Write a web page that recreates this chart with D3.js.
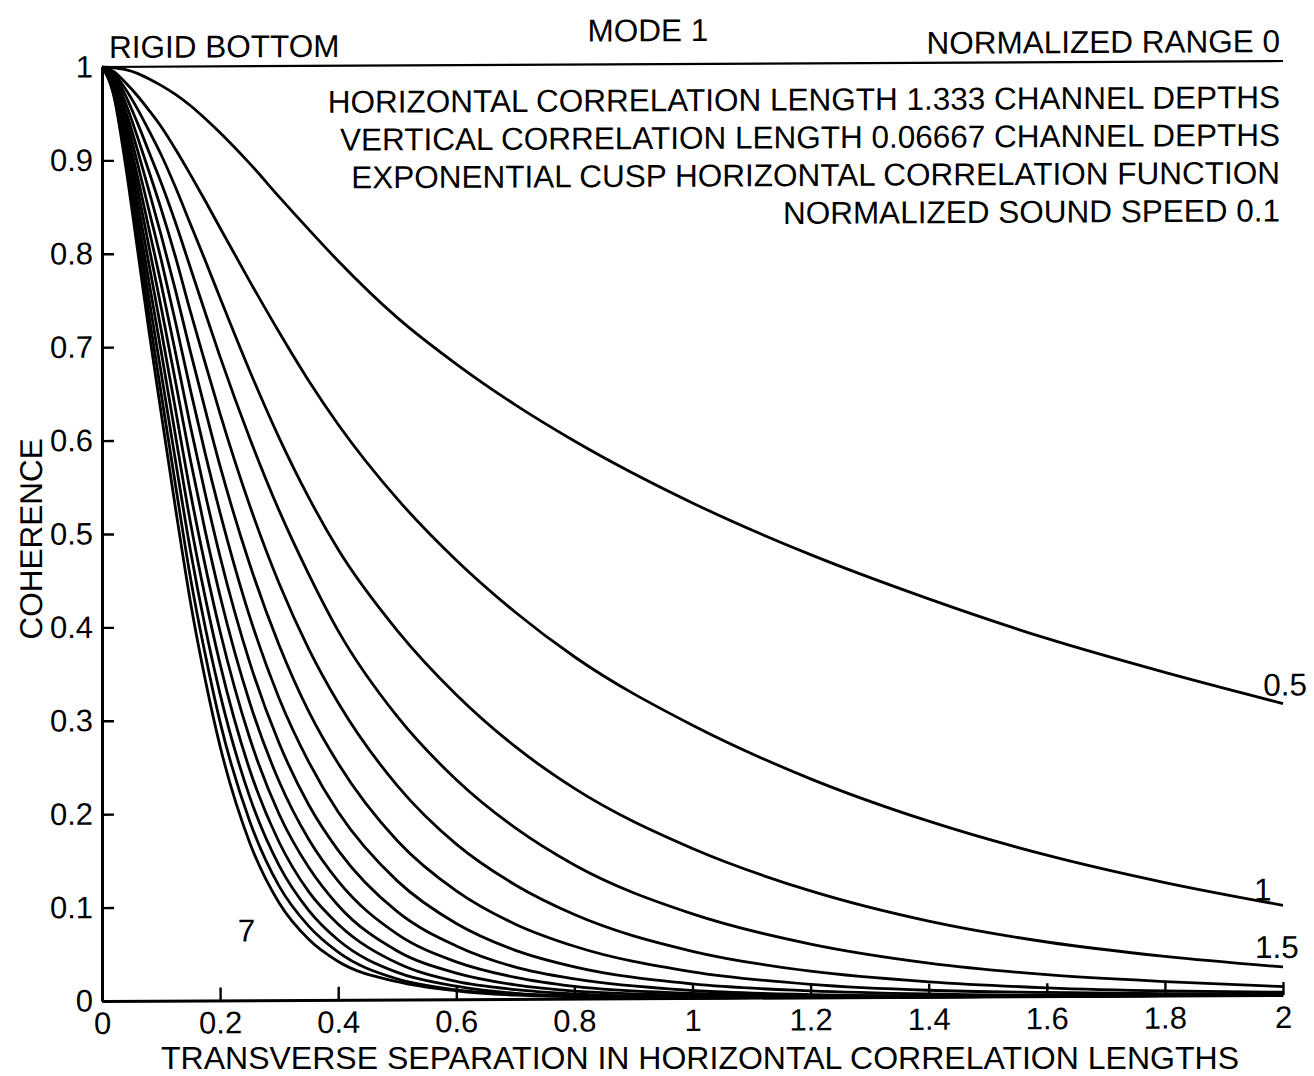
<!DOCTYPE html>
<html>
<head>
<meta charset="utf-8">
<script src="https://cdn.jsdelivr.net/npm/d3@7/dist/d3.min.js"></script>
<style>
  html, body { margin: 0; padding: 0; background: #fff; }
  svg { display: block; }
  text { font-family: "Liberation Sans", Arial, Helvetica, sans-serif; fill: #000; }
</style>
</head>
<body>
<svg id="chart" width="1314" height="1076"></svg>
<script>
// Transverse separation (in horizontal correlation lengths) at which coherence is sampled
const separation = [0, 0.02, 0.04, 0.06, 0.08, 0.1, 0.125, 0.15, 0.175, 0.2, 0.25, 0.3, 0.35, 0.4,
                    0.5, 0.6, 0.7, 0.8, 1.0, 1.2, 1.4, 1.6, 1.8, 2.0];

// Coherence curves, one per normalized range
const coh_0_5 = [1, 0.999, 0.997, 0.993, 0.987, 0.980, 0.970, 0.958, 0.944, 0.929, 0.896, 0.860, 0.825, 0.791, 0.730, 0.680, 0.636, 0.597, 0.530, 0.474, 0.426, 0.383, 0.346, 0.312];
const coh_1_0 = [1, 0.995, 0.983, 0.969, 0.953, 0.936, 0.911, 0.884, 0.856, 0.827, 0.770, 0.715, 0.663, 0.616, 0.536, 0.470, 0.414, 0.366, 0.292, 0.234, 0.188, 0.151, 0.121, 0.096];
const coh_1_5 = [1, 0.993, 0.976, 0.955, 0.931, 0.906, 0.870, 0.831, 0.792, 0.752, 0.674, 0.602, 0.538, 0.482, 0.395, 0.326, 0.270, 0.225, 0.160, 0.114, 0.081, 0.058, 0.042, 0.030];
const coh_2_0 = [1, 0.991, 0.969, 0.940, 0.908, 0.876, 0.832, 0.784, 0.736, 0.689, 0.602, 0.524, 0.456, 0.395, 0.303, 0.235, 0.183, 0.143, 0.090, 0.057, 0.036, 0.023, 0.015, 0.009];
const coh_2_5 = [1, 0.989, 0.961, 0.925, 0.887, 0.848, 0.795, 0.737, 0.682, 0.628, 0.530, 0.446, 0.376, 0.318, 0.229, 0.166, 0.122, 0.090, 0.050, 0.028, 0.016, 0.009, 0.005, 0.003];
const coh_3_0 = [1, 0.987, 0.953, 0.911, 0.866, 0.820, 0.759, 0.694, 0.632, 0.572, 0.467, 0.380, 0.309, 0.253, 0.170, 0.116, 0.080, 0.056, 0.028, 0.014, 0.007, 0.004, 0.002, 0.001];
const coh_3_5 = [1, 0.984, 0.946, 0.897, 0.845, 0.794, 0.725, 0.653, 0.585, 0.522, 0.411, 0.323, 0.255, 0.201, 0.127, 0.081, 0.052, 0.034, 0.015, 0.007, 0.003, 0.001, 0.001, 0.000];
const coh_4_0 = [1, 0.982, 0.938, 0.883, 0.825, 0.768, 0.692, 0.614, 0.542, 0.475, 0.362, 0.275, 0.209, 0.160, 0.094, 0.057, 0.034, 0.021, 0.008, 0.003, 0.001, 0.001, 0.000, 0.000];
const coh_4_5 = [1, 0.980, 0.931, 0.870, 0.806, 0.743, 0.661, 0.578, 0.502, 0.433, 0.319, 0.234, 0.172, 0.127, 0.070, 0.040, 0.023, 0.013, 0.005, 0.002, 0.001, 0.000, 0.000, 0.000];
const coh_5_0 = [1, 0.978, 0.923, 0.856, 0.787, 0.719, 0.631, 0.543, 0.465, 0.395, 0.281, 0.199, 0.142, 0.101, 0.052, 0.028, 0.015, 0.008, 0.003, 0.001, 0.000, 0.000, 0.000, 0.000];
const coh_5_5 = [1, 0.976, 0.916, 0.843, 0.768, 0.696, 0.603, 0.511, 0.431, 0.360, 0.247, 0.169, 0.116, 0.081, 0.039, 0.019, 0.010, 0.005, 0.001, 0.000, 0.000, 0.000, 0.000, 0.000];
const coh_6_0 = [1, 0.973, 0.908, 0.830, 0.750, 0.673, 0.576, 0.481, 0.399, 0.328, 0.218, 0.144, 0.096, 0.064, 0.029, 0.014, 0.006, 0.003, 0.001, 0.000, 0.000, 0.000, 0.000, 0.000];
const coh_6_5 = [1, 0.971, 0.901, 0.817, 0.732, 0.651, 0.550, 0.452, 0.370, 0.298, 0.192, 0.122, 0.079, 0.051, 0.022, 0.010, 0.005, 0.002, 0.000, 0.000, 0.000, 0.000, 0.000, 0.000];
const coh_7_0 = [1, 0.969, 0.894, 0.805, 0.715, 0.630, 0.525, 0.426, 0.343, 0.272, 0.169, 0.104, 0.065, 0.041, 0.019, 0.009, 0.004, 0.002, 0.000, 0.000, 0.000, 0.000, 0.000, 0.000];

const ranges = [0.5, 1.0, 1.5, 2.0, 2.5, 3.0, 3.5, 4.0, 4.5, 5.0, 5.5, 6.0, 6.5, 7.0];
const coherenceSeries = [coh_0_5, coh_1_0, coh_1_5, coh_2_0, coh_2_5, coh_3_0, coh_3_5,
                         coh_4_0, coh_4_5, coh_5_0, coh_5_5, coh_6_0, coh_6_5, coh_7_0];

// Axis ticks
const xTicks = [0, 0.2, 0.4, 0.6, 0.8, 1, 1.2, 1.4, 1.6, 1.8, 2];
const xTickLabels = ["0", "0.2", "0.4", "0.6", "0.8", "1", "1.2", "1.4", "1.6", "1.8", "2"];
const yTicks = [0, 0.1, 0.2, 0.3, 0.4, 0.5, 0.6, 0.7, 0.8, 0.9, 1];
const yTickLabels = ["0", "0.1", "0.2", "0.3", "0.4", "0.5", "0.6", "0.7", "0.8", "0.9", "1"];

// Header text
const titleText = "MODE 1";
const leftHeader = "RIGID BOTTOM";
const rightHeader = "NORMALIZED RANGE 0";
const parameterLines = [
  "HORIZONTAL CORRELATION LENGTH 1.333 CHANNEL DEPTHS",
  "VERTICAL CORRELATION LENGTH 0.06667 CHANNEL DEPTHS",
  "EXPONENTIAL CUSP HORIZONTAL CORRELATION FUNCTION",
  "NORMALIZED SOUND SPEED 0.1"
];
const xAxisTitle = "TRANSVERSE SEPARATION IN HORIZONTAL CORRELATION LENGTHS";
const yAxisTitle = "COHERENCE";
const curveLabels = ["0.5", "1", "1.5", "7"];

const FONT = 31.5;
const TICK_FONT = 31;
const XTITLE_FONT = 30.5;

const svg = d3.select("#chart");
svg.append("rect").attr("width", 1314).attr("height", 1076).attr("fill", "#fff");

// The whole sheet sits with a very slight slant
const root = svg.append("g").attr("transform", "matrix(1,-0.0051,0,1,0,0.52)");

const x = d3.scaleLinear().domain([0, 2]).range([102, 1283]);
const y = d3.scaleLinear().domain([0, 1]).range([1001, 67]);

// Coherence curves
const line = d3.line()
  .x((d, i) => x(separation[i]))
  .y(d => y(d))
  .curve(d3.curveMonotoneX);

root.append("g")
  .selectAll("path")
  .data(coherenceSeries)
  .join("path")
  .attr("d", d => line(d))
  .attr("fill", "none")
  .attr("stroke", "#000")
  .attr("stroke-width", 2.8)
  .attr("stroke-linejoin", "round");

// Top frame line
root.append("line")
  .attr("x1", x(0)).attr("x2", x(2))
  .attr("y1", y(1)).attr("y2", y(1))
  .attr("stroke", "#000").attr("stroke-width", 2.2);

// Axes with inward ticks
const xAxis = d3.axisBottom(x)
  .tickValues(xTicks)
  .tickFormat((d, i) => xTickLabels[i])
  .tickSizeInner(-13).tickSizeOuter(0).tickPadding(11);

const yAxis = d3.axisLeft(y)
  .tickValues(yTicks)
  .tickFormat((d, i) => yTickLabels[i])
  .tickSizeInner(-12).tickSizeOuter(0).tickPadding(9);

const gx = root.append("g").attr("transform", `translate(0,${y(0)})`).call(xAxis);
const gy = root.append("g").attr("transform", `translate(${x(0)},0)`).call(yAxis);

[gx, gy].forEach(g => {
  g.select(".domain").attr("stroke", "#000").attr("stroke-width", 3);
  g.selectAll(".tick line").attr("stroke", "#000").attr("stroke-width", 2.4);
  g.selectAll(".tick text")
    .attr("font-family", "'Liberation Sans', Arial, Helvetica, sans-serif")
    .attr("font-size", TICK_FONT).attr("fill", "#000");
});

// Header and parameter text
root.append("text").attr("x", 648).attr("y", 44)
  .attr("text-anchor", "middle").attr("font-size", FONT).text(titleText);
root.append("text").attr("x", 109).attr("y", 58)
  .attr("font-size", FONT).text(leftHeader);
root.append("text").attr("x", 1280).attr("y", 58)
  .attr("text-anchor", "end").attr("font-size", FONT).text(rightHeader);
root.append("g")
  .selectAll("text")
  .data(parameterLines)
  .join("text")
  .attr("x", 1280)
  .attr("y", (d, i) => 114 + i * 37.8)
  .attr("text-anchor", "end")
  .attr("font-size", FONT)
  .text(d => d);

// Axis titles
svg.append("text").attr("x", 700).attr("y", 1069)
  .attr("text-anchor", "middle").attr("font-size", XTITLE_FONT)
  .attr("textLength", 1078).attr("lengthAdjust", "spacingAndGlyphs")
  .text(xAxisTitle);
root.append("text")
  .attr("transform", `translate(42,${y(0.495)}) rotate(-90)`)
  .attr("text-anchor", "middle").attr("font-size", FONT).text(yAxisTitle);

// Range labels beside their curves
const lastIdx = separation.length - 1;
root.append("text").attr("x", x(2) + 24).attr("y", y(coh_0_5[lastIdx]) - 8)
  .attr("text-anchor", "end").attr("font-size", FONT).text(curveLabels[0]);
root.append("text").attr("x", x(2) - 29).attr("y", y(coh_1_0[lastIdx]) - 5)
  .attr("font-size", FONT).text(curveLabels[1]);
root.append("text").attr("x", x(2) - 28).attr("y", y(coh_1_5[lastIdx]) - 9)
  .attr("font-size", FONT).text(curveLabels[2]);
root.append("text").attr("x", x(0.23)).attr("y", y(0.063))
  .attr("font-size", FONT).text(curveLabels[3]);
</script>
</body>
</html>
